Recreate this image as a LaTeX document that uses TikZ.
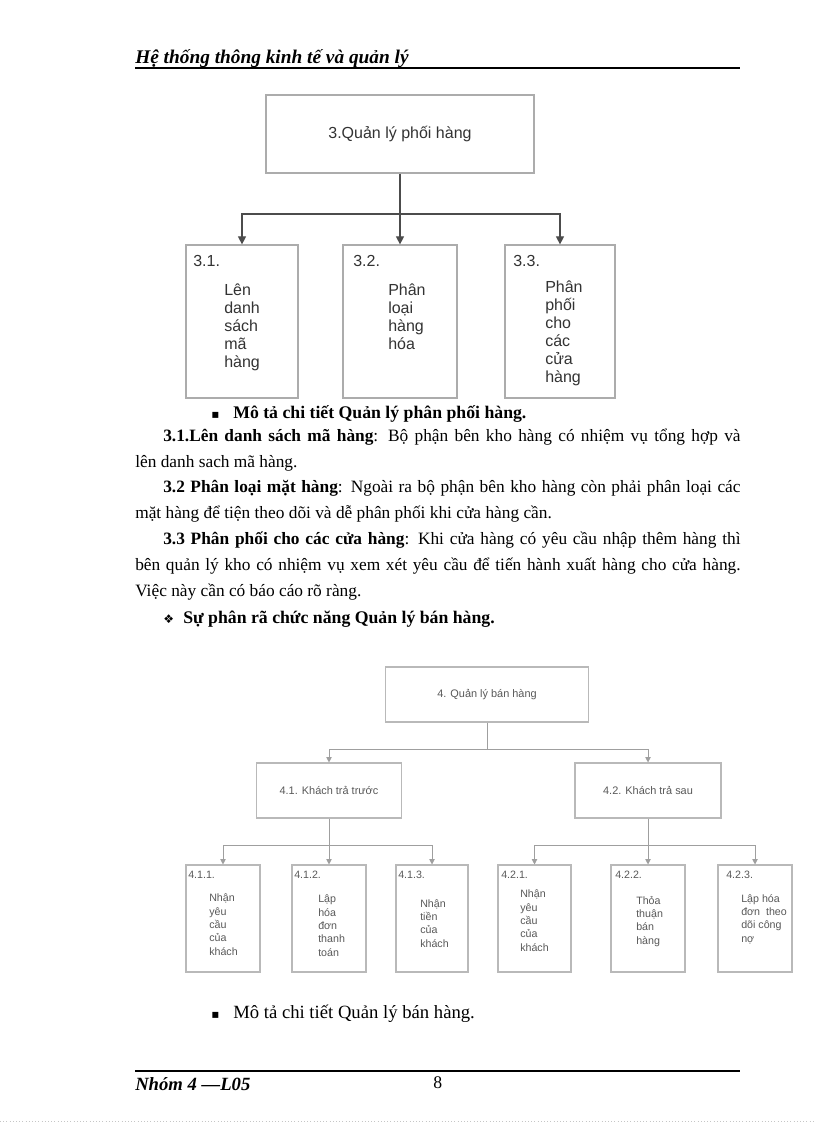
\documentclass[tikz,border=0pt]{standalone}
\usepackage{fontspec}
\setmainfont{Liberation Serif}
\newfontfamily\diagfont{Liberation Sans}
\newfontfamily\symfont{DejaVu Sans}
\usepackage{tikz}
\usetikzlibrary{arrows.meta,positioning,calc}

\begin{document}
\begin{tikzpicture}[
    x=0.75pt, y=-0.75pt,
    bigbox/.style={rectangle, draw=gray!65, line width=0.9pt, inner sep=0pt,
                   font=\diagfont\fontsize{12}{13.5}\selectfont, text=black!80},
    smallbox/.style={rectangle, draw=gray!55, line width=0.8pt, inner sep=0pt,
                     font=\diagfont\fontsize{8.2}{10}\selectfont, text=black!65},
    bignum/.style={anchor=base west, inner sep=0pt,
                   font=\diagfont\fontsize{12}{13.5}\selectfont, text=black!80},
    bigtext/.style={anchor=base west, inner sep=0pt, align=left,
                    font=\diagfont\fontsize{12}{13.5}\selectfont, text=black!80},
    smallnum/.style={anchor=base west, inner sep=0pt,
                     font=\diagfont\fontsize{8}{10}\selectfont, text=black!65},
    smalltext/.style={anchor=base west, inner sep=0pt, align=left,
                      font=\diagfont\fontsize{8}{10}\selectfont, text=black!65},
    para/.style={anchor=base west, inner sep=0pt, text width=454pt, align=justify,
                 font=\fontsize{13}{19.5}\selectfont},
    line/.style={anchor=base west, inner sep=0pt, font=\fontsize{13.3}{19.5}\selectfont},
    bulletsym/.style={anchor=base west, inner sep=0pt, font=\symfont\fontsize{9}{10}\selectfont},
    pagetext/.style={anchor=base west, inner sep=0pt, font=\bfseries\itshape\fontsize{14.5}{16}\selectfont},
    rule/.style={line width=1.1pt},
    link/.style={draw=black!70, line width=0.8pt},
    arrow/.style={link, -{Triangle[length=6pt,width=6pt]}},
    link2/.style={draw=gray!75, line width=0.7pt},
    arrow2/.style={link2, -{Triangle[length=4pt,width=4pt]}}
]
\fill[white] (0,0) rectangle (816,1123);
\useasboundingbox (0,0) rectangle (816,1123);

%% ---- Header ----
\node[pagetext] (head) at (135,64) {Hệ thống thông kinh tế và quản lý};
\coordinate (headl) at (135,68);
\coordinate (headr) at (740,68);
\draw[rule] (headl) -- (headr);

%% ---- So do 3: Quan ly phoi hang ----
%% (base of a text block = its last line)
\node[bigbox, minimum width=201pt, minimum height=58.5pt] (q3)  at (400,134)   {3.Quản lý phối hàng};
\node[bigbox, minimum width=84pt,  minimum height=114.75pt] (q31) at (242,321.5) {};
\node[bigbox, minimum width=85.5pt, minimum height=114.75pt] (q32) at (400,321.5) {};
\node[bigbox, minimum width=82.5pt, minimum height=114.75pt] (q33) at (560,321.5) {};

\node[bignum]  (q31n) at (193,267) {3.1.};
\node[bignum]  (q32n) at (353,267) {3.2.};
\node[bignum]  (q33n) at (513,267) {3.3.};
\node[bigtext] (q31t) at (224,367) {Lên\\danh\\sách\\mã\\hàng};
\node[bigtext] (q32t) at (388,349) {Phân\\loại\\hàng\\hóa};
\node[bigtext] (q33t) at (545,382) {Phân\\phối\\cho\\các\\cửa\\hàng};

\coordinate (q3bus) at (q3.south |- 0,214);
\draw[link]  (q3) -- (q3bus);
\draw[arrow] (q3bus) -| (q31);
\draw[arrow] (q3bus) -- (q32);
\draw[arrow] (q3bus) -| (q33);

%% ---- Mo ta chi tiet ----
\node[bulletsym] (m1s) at (211,418) {▪};
\node[line] (m1) at (233,418) {\bfseries Mô tả chi tiết Quản lý phân phối hàng.};
\node[para] (p31) at (135,441) {\hspace*{21pt}\textbf{3.1.Lên danh sách mã hàng}: Bộ phận bên kho hàng có nhiệm vụ tổng hợp và\linebreak lên danh sach mã hàng.};
\node[para] (p32) at (135,492) {\hspace*{21pt}\textbf{3.2 Phân loại mặt hàng}: Ngoài ra bộ phận bên kho hàng còn phải phân loại các\linebreak mặt hàng để tiện theo dõi và dễ phân phối khi cửa hàng cần.};
\node[para] (p33) at (135,544) {\hspace*{21pt}\textbf{3.3 Phân phối cho các cửa hàng}: Khi cửa hàng có yêu cầu nhập thêm hàng thì\linebreak bên quản lý kho có nhiệm vụ xem xét yêu cầu để tiến hành xuất hàng cho cửa hàng.\linebreak Việc này cần có báo cáo rõ ràng.};
\node[bulletsym] (m2s) at (163,623) {❖};
\node[line] (m2) at (183,623) {\bfseries Sự phân rã chức năng Quản lý bán hàng.};

%% ---- So do 4: Quan ly ban hang ----
\node[smallbox, minimum width=152.25pt, minimum height=41.25pt] (q4)  at (487,694.5) {4. Quản lý bán hàng};
\node[smallbox, minimum width=108.75pt, minimum height=41.25pt] (q41) at (329,790.5) {4.1. Khách trả trước};
\node[smallbox, minimum width=109.5pt,  minimum height=41.25pt] (q42) at (648,790.5) {4.2. Khách trả sau};

\node[smallbox, minimum width=55.5pt,  minimum height=80.25pt] (q411) at (223,918.5)   {};
\node[smallbox, minimum width=55.5pt,  minimum height=80.25pt] (q412) at (329,918.5)   {};
\node[smallbox, minimum width=54pt,    minimum height=80.25pt] (q413) at (432,918.5)   {};
\node[smallbox, minimum width=54.75pt, minimum height=80.25pt] (q421) at (534.5,918.5) {};
\node[smallbox, minimum width=55.5pt,  minimum height=80.25pt] (q422) at (648,918.5)   {};
\node[smallbox, minimum width=55.5pt,  minimum height=80.25pt] (q423) at (755,918.5)   {};

\node[smallnum] (q411n) at (188,878) {4.1.1.};
\node[smallnum] (q412n) at (294,878) {4.1.2.};
\node[smallnum] (q413n) at (398,878) {4.1.3.};
\node[smallnum] (q421n) at (501,878) {4.2.1.};
\node[smallnum] (q422n) at (615,878) {4.2.2.};
\node[smallnum] (q423n) at (726,878) {4.2.3.};

\node[smalltext] (q411t) at (209,955) {Nhận\\yêu\\cầu\\của\\khách};
\node[smalltext] (q412t) at (318,956) {Lập\\hóa\\đơn\\thanh\\toán};
\node[smalltext] (q413t) at (420,947) {Nhận\\tiền\\của\\khách};
\node[smalltext] (q421t) at (520,951) {Nhận\\yêu\\cầu\\của\\khách};
\node[smalltext] (q422t) at (636,944) {Thỏa\\thuận\\bán\\hàng};
\node[smalltext] (q423t) at (741,942) {Lập hóa\\đơn~ theo\\dõi công\\nợ};

\coordinate (q4bus) at (q4.south |- 0,749);
\draw[link2]  (q4) -- (q4bus);
\draw[arrow2] (q4bus) -| (q41);
\draw[arrow2] (q4bus) -| (q42);

\coordinate (q41bus) at (q41.south |- 0,845);
\draw[link2]  (q41) -- (q41bus);
\draw[arrow2] (q41bus) -| (q411);
\draw[arrow2] (q41bus) -- (q412);
\draw[arrow2] (q41bus) -| (q413);

\coordinate (q42bus) at (q42.south |- 0,845);
\draw[link2]  (q42) -- (q42bus);
\draw[arrow2] (q42bus) -| (q421);
\draw[arrow2] (q42bus) -- (q422);
\draw[arrow2] (q42bus) -| (q423);

\node[bulletsym] (m3s) at (211,1018) {▪};
\node[line] (m3) at (233,1018) {\fontsize{14}{19.5}\selectfont Mô tả chi tiết Quản lý bán hàng.};

%% ---- Footer ----
\coordinate (footl) at (135,1071);
\coordinate (footr) at (740,1071);
\draw[rule] (footl) -- (footr);
\node[pagetext] (foot) at (135,1090) {\fontsize{14}{16}\selectfont Nhóm 4 —L05};
\node[line] (pageno) at (433,1088) {8};
\coordinate (edgel) at (0,1121);
\coordinate (edger) at (816,1121);
\draw[dotted, gray!45] (edgel) -- (edger);

\end{tikzpicture}
\end{document}
